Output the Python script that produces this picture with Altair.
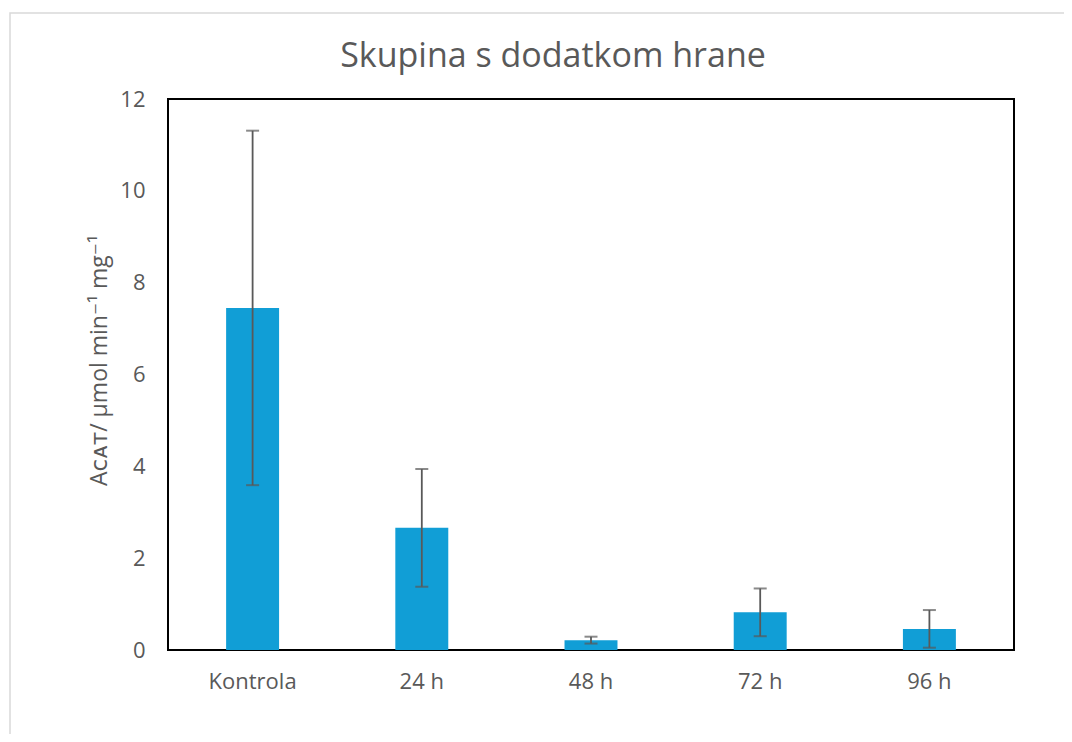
import altair as alt
import pandas as pd

categories = ["Kontrola", "24 h", "48 h", "72 h", "96 h"]
means = [7.45, 2.66, 0.215, 0.82, 0.46]
sds = [3.86, 1.28, 0.075, 0.52, 0.41]
title_text = "Skupina s dodatkom hrane"

df = pd.DataFrame({"cat": categories, "mean": means, "sd": sds})
df["lo"] = df["mean"] - df["sd"]
df["hi"] = df["mean"] + df["sd"]

GRAY = "#595959"
FONT = "Open Sans, DejaVu Sans"

xenc = alt.X("cat:N", sort=categories,
             scale=alt.Scale(paddingInner=0.687, paddingOuter=0.3435),
             axis=alt.Axis(title=None, labelAngle=0, tickSize=0, domain=False,
                           labelPadding=21, labelFontSize=22, labelColor=GRAY,
                           labelFont=FONT))
yscale = alt.Scale(domain=[0, 12], nice=False)

base = alt.Chart(df)
one = alt.Chart(pd.DataFrame({"a": [0]}))

border = one.mark_rect(
    fill=None, stroke="#d9d9d9", strokeWidth=1.5
).encode(x=alt.value(-158), x2=alt.value(950), y=alt.value(-86), y2=alt.value(800))

title = one.mark_text(text=title_text, fontSize=34, color=GRAY, font=FONT,
                      align="center", baseline="alphabetic").encode(
    x=alt.value(385), y=alt.value(-32))

bars = base.mark_bar(color="#119ed6").encode(
    x=xenc,
    y=alt.Y("mean:Q", scale=yscale,
            axis=alt.Axis(values=[0, 2, 4, 6, 8, 10, 12], grid=False, tickSize=0,
                          domain=False, labelPadding=23, labelFontSize=22,
                          labelColor=GRAY, labelFont=FONT,
                          title="A\u1d04\u1d00\u1d1b/ \u03bcmol min\u207b\u00b9 mg\u207b\u00b9",
                          titleFontSize=23, titleColor=GRAY, titleFont=FONT,
                          titleFontWeight="normal", titleX=-57, titleY=261,
                          titleBaseline="bottom")),
)

rules = base.mark_rule(color=GRAY, strokeWidth=1.8).encode(
    x=alt.X("cat:N", sort=categories), y="lo:Q", y2="hi:Q")
caps_hi = base.mark_tick(color=GRAY, size=13, thickness=2).encode(
    x=alt.X("cat:N", sort=categories), y="hi:Q")
caps_lo = base.mark_tick(color=GRAY, size=13, thickness=2).encode(
    x=alt.X("cat:N", sort=categories), y="lo:Q")

chart = alt.layer(border, title, bars, rules, caps_hi, caps_lo).properties(
    width=846, height=551,
    autosize=alt.AutoSizeParams(type="none"),
    padding={"left": 160, "top": 91, "right": 50, "bottom": 84},
).configure(background="white").configure_view(stroke="black", strokeWidth=2)

chart.save("out.html", embed_options={"renderer": "svg", "actions": False})
